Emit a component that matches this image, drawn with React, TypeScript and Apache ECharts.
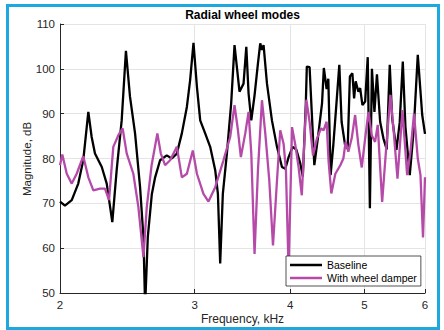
import React, { useEffect, useRef } from 'react';
import * as echarts from 'echarts';

const chartTitle = 'Radial wheel modes';
const xAxisName = 'Frequency, kHz';
const yAxisName = 'Magnitude, dB';
const seriesNames = ['Baseline', 'With wheel damper'];
const xTicksKHz = [2, 3, 4, 5, 6];
const yMin = 50;
const yMax = 110;
const yStep = 10;

const baselineKHz = [
  2.0, 2.03, 2.072, 2.113, 2.145, 2.178, 2.2, 2.222, 2.268, 2.302, 2.341, 2.372, 2.408, 2.439, 2.469,
  2.507, 2.545, 2.571, 2.584, 2.605, 2.637, 2.663, 2.703, 2.758, 2.8, 2.843, 2.886, 2.93, 2.959, 2.989,
  3.02, 3.05, 3.096, 3.143, 3.191, 3.217, 3.239, 3.265, 3.305, 3.348, 3.382, 3.433, 3.475, 3.504, 3.528,
  3.557, 3.592, 3.629, 3.654, 3.673, 3.691, 3.729, 3.785, 3.843, 3.901, 3.94, 3.98, 4.028, 4.073, 4.122,
  4.154, 4.191, 4.204, 4.239, 4.268, 4.3, 4.348, 4.401, 4.425, 4.462, 4.485, 4.516, 4.553, 4.595, 4.636,
  4.668, 4.717, 4.754, 4.786, 4.822, 4.847, 4.87, 4.91, 4.936, 4.97, 5.011, 5.05, 5.083, 5.114, 5.153,
  5.192, 5.242, 5.294, 5.347, 5.396, 5.435, 5.506, 5.56, 5.612, 5.657, 5.731, 5.8, 5.871, 5.95, 6.0,
];
const baselineDB = [
  70.4, 69.5, 70.7, 74.4, 79.6, 90.4, 84.8, 81.1, 78.1, 74.4, 65.8, 77.4, 88.5, 104.0, 93.8,
  85.6, 73.6, 62.5, 47, 62.5, 72.1, 75.8, 79.6, 80.7, 80.0, 81.1, 85.6, 91.5, 97.5, 105.8,
  96.0, 88.5, 85.6, 82.6, 77.4, 72.1, 56.6, 72.1, 81.1, 92.3, 105.3, 94.9, 96.7, 104.9, 94.5,
  88.5, 94.1, 101.2, 105.7, 104.2, 105.3, 96.7, 88.5, 82.6, 78.1, 77.7, 80.3, 82.6, 82.0, 78.9,
  76.0, 92, 100.5, 100.4, 90, 78.5, 84.8, 92.3, 100.2, 95.5, 97.8, 76.3, 83, 92, 100.9,
  88.2, 83.0, 82.2, 98.3, 99.0, 93.4, 97.2, 94.9, 95.7, 91.9, 92.7, 102.6, 68.9, 100.0, 90.4,
  98.8, 88.2, 84.5, 82.0, 100.9, 89, 81.9, 88, 101.6, 87, 76.3, 86.5, 103.1, 89.7, 85.5,
];

const damperKHz = [
  2.0, 2.014, 2.041, 2.072, 2.103, 2.145, 2.178, 2.211, 2.256, 2.29, 2.318, 2.348, 2.384, 2.415, 2.445,
  2.494, 2.532, 2.571, 2.597, 2.635, 2.681, 2.709, 2.744, 2.786, 2.843, 2.886, 2.93, 2.983, 3.02, 3.08,
  3.127, 3.191, 3.271, 3.338, 3.382, 3.417, 3.447, 3.493, 3.528, 3.557, 3.592, 3.629, 3.673, 3.71, 3.755,
  3.797, 3.843, 3.881, 3.92, 3.948, 3.98, 4.021, 4.061, 4.101, 4.141, 4.198, 4.239, 4.283, 4.335, 4.387,
  4.422, 4.462, 4.489, 4.526, 4.581, 4.65, 4.693, 4.725, 4.764, 4.812, 4.862, 4.91, 4.96, 5.011, 5.061,
  5.111, 5.163, 5.204, 5.274, 5.342, 5.407, 5.461, 5.523, 5.607, 5.686, 5.743, 5.805, 5.871, 5.919, 5.964,
  6.0,
];
const damperDB = [
  78.5, 80.9, 76.6, 74.4, 76.6, 80.5, 75.8, 72.9, 73.3, 73.3, 70.7, 82.6, 85.2, 86.7, 81.1,
  76.6, 69.2, 58.0, 69.2, 78.5, 85.6, 81.1, 78.5, 79.6, 82.6, 75.8, 76.6, 81.8, 76.6, 72.1,
  70.4, 73.6, 79.6, 84.8, 91.9, 86.3, 80.3, 85.6, 90.4, 81.1, 58.7, 77.4, 93.0, 85.6, 75.1,
  60.6, 75.1, 86.3, 83.3, 77.4, 55, 87.0, 83.0, 78.1, 71.8, 93.1, 88.2, 80.7, 84.5, 86.7,
  86.3, 88.2, 79.3, 72.2, 76.6, 78.5, 80.0, 83.7, 81.5, 84.5, 89.7, 83.0, 78.0, 84.5, 90.4,
  85.2, 83.7, 87.5, 70.3, 83.0, 94.2, 86.0, 75.5, 90.8, 76.3, 81.5, 90.0, 80.0, 76.3, 62.4,
  75.8,
];

const FONT = '"Liberation Sans", Arial, Helvetica, sans-serif';
const AXIS_COLOR = '#262626';
const GRID_COLOR = '#e4e4e4';

export default function App() {
  const ref = useRef<HTMLDivElement>(null);

  useEffect(() => {
    if (!ref.current) return;
    const chart = echarts.init(ref.current, null, { renderer: 'svg' });
    const toLog = (f: number) => Math.log10(f);
    const xTickPos = xTicksKHz.map(toLog);
    const baseData = baselineKHz.map((f, i) => [toLog(f), baselineDB[i]]);
    const dampData = damperKHz.map((f, i) => [toLog(f), damperDB[i]]);

    chart.setOption({
      animation: false,
      backgroundColor: '#ffffff',
      textStyle: { fontFamily: FONT },
      grid: { left: 60, right: 19, top: 24, bottom: 37, containLabel: false },
      xAxis: {
        type: 'value',
        min: toLog(xTicksKHz[0]),
        max: toLog(xTicksKHz[xTicksKHz.length - 1]),
        axisLine: { show: true, onZero: false, lineStyle: { color: AXIS_COLOR, width: 1 } },
        axisTick: { show: true, inside: true, length: 4, customValues: xTickPos, lineStyle: { color: AXIS_COLOR } },
        axisLabel: {
          show: true,
          customValues: xTickPos,
          margin: 6,
          fontSize: 11.5,
          color: AXIS_COLOR,
          fontFamily: FONT,
          formatter: (v: number) => String(Math.round(Math.pow(10, v))),
        },
        splitLine: { show: true, lineStyle: { color: GRID_COLOR, width: 1 } },
      },
      yAxis: {
        type: 'value',
        min: yMin,
        max: yMax,
        interval: yStep,
        axisLine: { show: true, onZero: false, lineStyle: { color: AXIS_COLOR, width: 1 } },
        axisTick: { show: true, inside: true, length: 4, lineStyle: { color: AXIS_COLOR } },
        axisLabel: { show: true, margin: 5, fontSize: 11.5, color: AXIS_COLOR, fontFamily: FONT },
        splitLine: { show: true, lineStyle: { color: GRID_COLOR, width: 1 } },
      },
      legend: {
        show: true,
        orient: 'vertical',
        left: 286,
        top: 256,
        padding: [3, 4, 2, 4],
        itemGap: 1,
        itemWidth: 32,
        itemHeight: 2.5,
        icon: 'rect',
        backgroundColor: '#ffffff',
        borderColor: AXIS_COLOR,
        borderWidth: 0.8,
        borderRadius: 0,
        textStyle: { fontSize: 10.5, lineHeight: 12, color: '#000', fontFamily: FONT },
        data: seriesNames,
        z: 10,
      },
      series: [
        {
          name: seriesNames[0],
          type: 'line',
          data: baseData,
          showSymbol: false,
          symbol: 'none',
          clip: true,
          lineStyle: { color: '#000000', width: 2.3 },
          itemStyle: { color: '#000000' },
          z: 2,
        },
        {
          name: seriesNames[1],
          type: 'line',
          data: dampData,
          showSymbol: false,
          symbol: 'none',
          clip: true,
          lineStyle: { color: '#b64aa9', width: 2.3 },
          itemStyle: { color: '#b64aa9' },
          z: 3,
        },
      ],
      graphic: [
        {
          type: 'text',
          x: 242.5,
          y: 15,
          style: {
            text: chartTitle,
            fontSize: 12,
            fontWeight: 'bold',
            fontFamily: FONT,
            fill: '#000',
            align: 'center',
            verticalAlign: 'middle',
          },
        },
        {
          type: 'text',
          x: 242.5,
          y: 319,
          style: {
            text: xAxisName,
            fontSize: 12,
            fontFamily: FONT,
            fill: AXIS_COLOR,
            align: 'center',
            verticalAlign: 'middle',
          },
        },
        {
          type: 'text',
          x: 26.5,
          y: 159,
          rotation: Math.PI / 2,
          style: {
            text: yAxisName,
            fontSize: 11.5,
            fontFamily: FONT,
            fill: AXIS_COLOR,
            align: 'center',
            verticalAlign: 'middle',
          },
        },
        {
          type: 'rect',
          silent: true,
          z: 100,
          shape: { x: 7.5, y: 5.5, width: 431, height: 323 },
          style: { fill: 'none', stroke: '#1ea8e0', lineWidth: 3 },
        },
      ],
    });

    return () => chart.dispose();
  }, []);

  return (
    <div
      ref={ref}
      style={{ position: 'fixed', left: 0, top: 0, width: 444, height: 330, background: '#fff' }}
    />
  );
}
